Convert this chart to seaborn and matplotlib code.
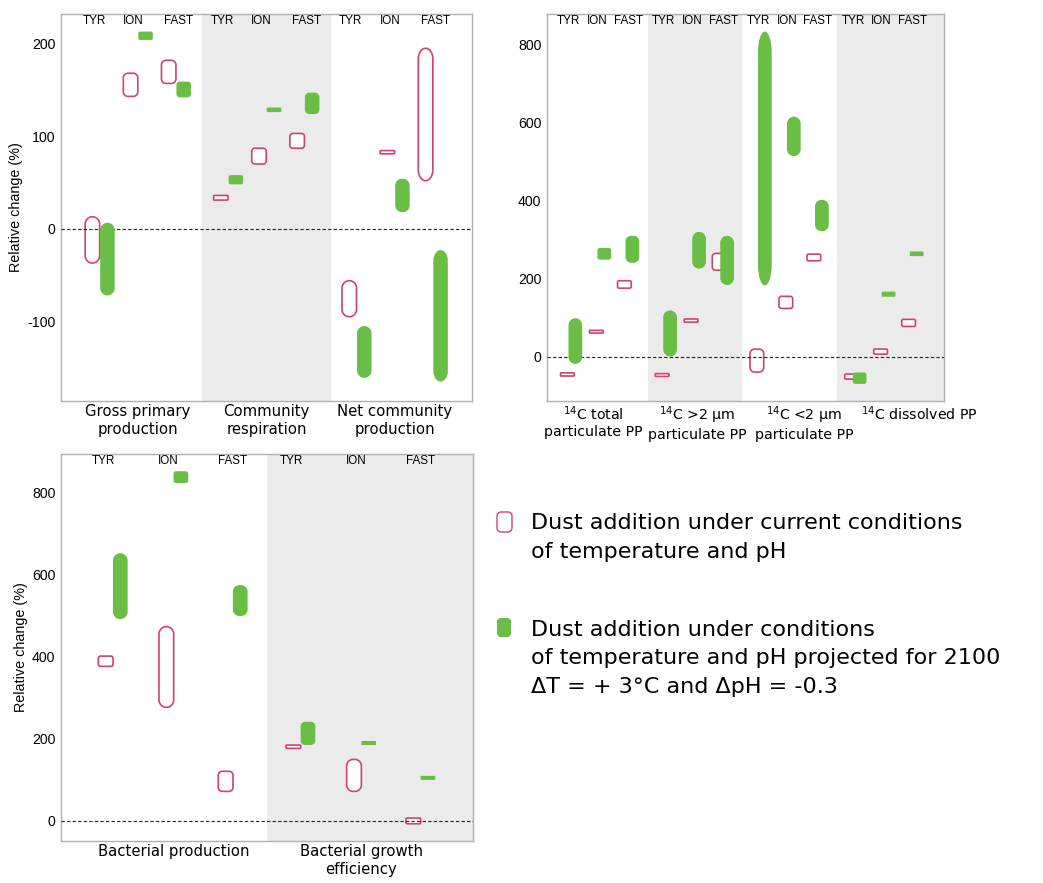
import matplotlib
matplotlib.use("Agg")
import matplotlib.pyplot as plt
import matplotlib.transforms as mtransforms
from matplotlib.path import Path
from matplotlib.patches import PathPatch
import seaborn as sns

# ---- data: relative change (%) ranges, order TYR, ION, FAST within each category
stations = ["TYR", "ION", "FAST"]

cats1 = ["Gross primary\nproduction", "Community\nrespiration", "Net community\nproduction"]
cur1_lo = [-37, 143, 157, 31, 70, 87, -95, 81, 52]
cur1_hi = [13, 168, 182, 36, 87, 103, -56, 84.5, 195]
fut1_lo = [-72, 204, 142, 48, 126, 124, -161, 18, -165]
fut1_hi = [6.5, 213, 159, 58, 131, 147, -105, 54, -23]
yticks1 = [-100, 0, 100, 200]

cats2 = ["$^{14}$C total\nparticulate PP", "$^{14}$C >2 µm\nparticulate PP",
         "$^{14}$C <2 µm\nparticulate PP", "$^{14}$C dissolved PP"]
cur2_lo = [-49, 61, 176, -50, 89, 222, -39, 124, 246, -57, 7, 78]
cur2_hi = [-41, 68, 195, -43, 97, 265, 20, 155, 263, -44, 20, 96]
fut2_lo = [-18, 249, 241, 1, 226, 184, 183, 514, 322, -69, 154, 258]
fut2_hi = [99, 279, 310, 119, 320, 310, 833, 615, 402, -40, 167, 270]
yticks2 = [0, 200, 400, 600, 800]

cats3 = ["Bacterial production", "Bacterial growth\nefficiency"]
cur3_lo = [377, 277, 72, 177, 72, -7]
cur3_hi = [402, 474, 121, 185, 150, 7]
fut3_lo = [492, 824, 500, 185, 185, 100]
fut3_hi = [653, 853, 575, 242, 195, 110]
yticks3 = [0, 200, 400, 600, 800]

legend_labels = [
    ["Dust addition under current conditions", "of temperature and pH"],
    ["Dust addition under conditions", "of temperature and pH projected for 2100",
     "ΔT = + 3°C and ΔpH = -0.3"],
]

RED = "#d4426c"
GREEN = "#6abd45"
BAND = "#ebebeb"
FIG_W, FIG_H = 1043, 883

sns.set_style("white")
plt.rcParams["font.family"] = ["Liberation Sans", "DejaVu Sans"]
plt.rcParams["axes.unicode_minus"] = False
for key in ["text.color", "axes.labelcolor", "xtick.labelcolor", "ytick.labelcolor"]:
    plt.rcParams[key] = "black"


def px_scale(ax):
    pos = ax.get_position()
    x0, x1 = ax.get_xlim()
    y0, y1 = ax.get_ylim()
    return abs(x1 - x0) / (pos.width * FIG_W), abs(y1 - y0) / (pos.height * FIG_H)


def rounded_bar(ax, x, lo, hi, w_px, filled, lw=1.2):
    xpp, ypp = px_scale(ax)
    lo, hi = min(lo, hi), max(lo, hi)
    h_px = (hi - lo) / ypp
    rx_px = min(w_px / 2, 0.2 * h_px)
    ry_px = min(h_px / 2, max(rx_px, 0.08 * h_px))
    rx, ry = rx_px * xpp, ry_px * ypp
    x0, x1 = x - w_px * xpp / 2, x + w_px * xpp / 2
    y0, y1 = lo, hi
    k = 0.5523
    verts = [
        (x0 + rx, y0), (x1 - rx, y0),
        (x1 - rx + k * rx, y0), (x1, y0 + ry - k * ry), (x1, y0 + ry),
        (x1, y1 - ry),
        (x1, y1 - ry + k * ry), (x1 - rx + k * rx, y1), (x1 - rx, y1),
        (x0 + rx, y1),
        (x0 + rx - k * rx, y1), (x0, y1 - ry + k * ry), (x0, y1 - ry),
        (x0, y0 + ry),
        (x0, y0 + ry - k * ry), (x0 + rx - k * rx, y0), (x0 + rx, y0),
        (x0 + rx, y0),
    ]
    codes = ([Path.MOVETO, Path.LINETO] + [Path.CURVE4] * 3 + [Path.LINETO]
             + [Path.CURVE4] * 3 + [Path.LINETO] + [Path.CURVE4] * 3
             + [Path.LINETO] + [Path.CURVE4] * 3 + [Path.CLOSEPOLY])
    if filled:
        patch = PathPatch(Path(verts, codes), facecolor=GREEN, edgecolor="none", zorder=4)
    else:
        patch = PathPatch(Path(verts, codes), facecolor="white", edgecolor=RED,
                          linewidth=lw, zorder=2)
    ax.add_patch(patch)


def panel(rect, cats, cur_lo, cur_hi, fut_lo, fut_hi, xlim, ylim, yticks, bands,
          sub_off, lab_off, w_px, dodge_px, ylabel=None, label_shift=None, catsize=10.7):
    ax = plt.gcf().add_axes([rect[0] / FIG_W, 1 - rect[3] / FIG_H,
                             (rect[2] - rect[0]) / FIG_W, (rect[3] - rect[1]) / FIG_H])
    ax.set_xlim(*xlim)
    ax.set_ylim(*ylim)
    for b0, b1 in bands:
        ax.axvspan(b0, b1, color=BAND, lw=0, zorder=0)
    ax.axhline(0, color="#222222", lw=0.8, ls=(0, (3, 2)), zorder=3)
    xpp, _ = px_scale(ax)
    i = 0
    for g in range(len(cats)):
        for s in range(3):
            xc = g + sub_off[s]
            rounded_bar(ax, xc - dodge_px * xpp, cur_lo[i], cur_hi[i], w_px, False)
            rounded_bar(ax, xc + dodge_px * xpp, fut_lo[i], fut_hi[i], w_px, True)
            ax.text(g + lab_off[s], 1 - 7.5 / (rect[3] - rect[1]), stations[s],
                    transform=ax.get_xaxis_transform(), ha="center", va="center",
                    fontsize=8.4)
            i += 1
    ax.set_xticks(range(len(cats)))
    ax.set_xticklabels(cats, fontfamily="DejaVu Sans", fontsize=catsize)
    ax.set_yticks(yticks)
    ax.tick_params(axis="both", length=2.8, width=0.8, color="#999999")
    ax.tick_params(axis="y", labelsize=10.2, pad=1.3)
    ax.tick_params(axis="x", pad=-0.5)
    for sp in ax.spines.values():
        sp.set_color("#b0b0b0")
        sp.set_linewidth(1.0)
    if ylabel is not None:
        ax.set_ylabel("Relative change (%)", fontsize=10.4)
        ax.yaxis.set_label_coords(-(rect[0] - ylabel) / (rect[2] - rect[0]), 0.5)
    if label_shift:
        for lab, dx in zip(ax.get_xticklabels(), label_shift):
            lab.set_transform(lab.get_transform()
                              + mtransforms.ScaledTranslation(dx / 100, 0, plt.gcf().dpi_scale_trans))
    return ax


fig = plt.figure(figsize=(FIG_W / 100, FIG_H / 100), dpi=100)

panel((61, 14, 472, 401), cats1, cur1_lo, cur1_hi, fut1_lo, fut1_hi,
      (-0.6, 2.6), (-186, 232), yticks1, [(0.5, 1.5)],
      (-0.297, 0, 0.297), (-0.344, -0.039, 0.3125), 14.5, 7.5, ylabel=23)

panel((547, 14, 944, 401), cats2, cur2_lo, cur2_hi, fut2_lo, fut2_hi,
      (-0.563, 3.627), (-113, 878), yticks2, [(0.5, 1.5), (2.5, 3.627)],
      (-0.306, 0, 0.296), (-0.334, -0.032, 0.296), 13.7, 4,
      label_shift=(-7, 2, 14, 35), catsize=10.2)

panel((61, 454, 473, 841), cats3, cur3_lo, cur3_hi, fut3_lo, fut3_hi,
      (-0.6, 1.595), (-49, 895), yticks3, [(0.5, 1.595)],
      (-0.323, 0, 0.316), (-0.373, -0.027, 0.314), 14.7, 7.3, ylabel=28)

# legend drawn in pixel coordinates
lax = fig.add_axes([480 / FIG_W, 1 - 720 / FIG_H, 563 / FIG_W, 240 / FIG_H])
lax.set_xlim(480, 1043)
lax.set_ylim(720, 480)
lax.set_axis_off()
rounded_bar(lax, 504.5, 512, 532, 15, False, lw=1.0)
rounded_bar(lax, 504, 618, 637, 14, True)
baselines = [[529, 558], [635.5, 664.5, 693]]
for block, bl in zip(legend_labels, baselines):
    for line, y in zip(block, bl):
        lax.text(531, y, line, fontsize=16, fontfamily="DejaVu Sans", va="baseline", ha="left")

fig.savefig("out.png", dpi=100)
